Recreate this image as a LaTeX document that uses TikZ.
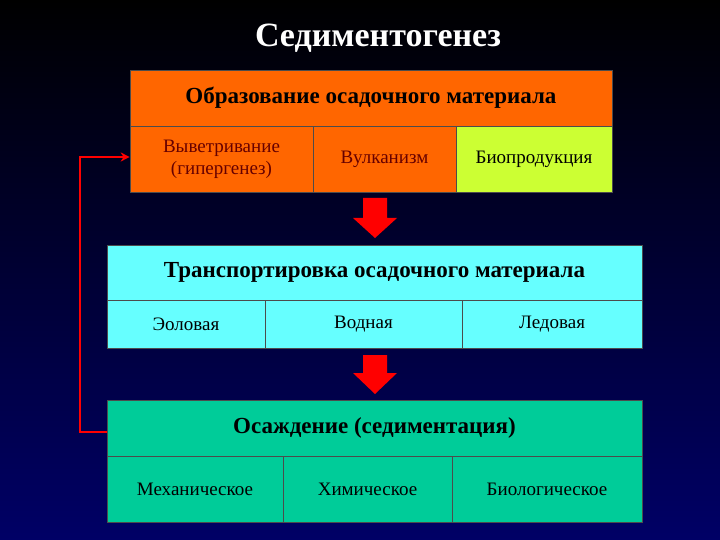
\documentclass[tikz,border=0pt]{standalone}
\usepackage{fontspec}
\setmainfont{Liberation Serif}
\usetikzlibrary{arrows.meta}
\definecolor{orng}{HTML}{FF6600}
\definecolor{lime}{HTML}{CCFF33}
\definecolor{cyn}{HTML}{66FFFF}
\definecolor{teal2}{HTML}{00CC99}
\definecolor{navy2}{HTML}{000066}
\definecolor{maroon2}{HTML}{660000}
\tikzset{
 cell/.style={draw=black!70, line width=0.6pt, inner sep=0pt, align=center, font=\fontsize{19}{22}\selectfont},
 head/.style={cell, font=\bfseries\fontsize{23}{26}\selectfont},
 bigarrow/.style={fill=red, draw=none},
}
\begin{document}
\begin{tikzpicture}[x=1pt,y=-1pt]
\shade[top color=black, bottom color=navy2] (0,0) rectangle (720,540);
\useasboundingbox (0,0) rectangle (720,540);
\node[text=white, font=\bfseries\fontsize{34}{38}\selectfont] (title) at (378,38) {Седиментогенез};
% box 1
\node[head, fill=orng, minimum width=482, minimum height=56] (h1) at (371,98) {Образование осадочного материала};
\node[cell, fill=orng, text=maroon2, minimum width=183, minimum height=66] (c11) at (221.5,159) {Выветривание\\(гипергенез)};
\node[cell, fill=orng, text=maroon2, minimum width=143, minimum height=66] (c12) at (384.5,159) {Вулканизм};
\node[cell, fill=lime, text=black, minimum width=156, minimum height=66] (c13) at (534,159) {Биопродукция};
% box 2
\node[head, fill=cyn, minimum width=535, minimum height=55] (h2) at (374.5,272.5) {Транспортировка осадочного материала};
\node[cell, fill=cyn, minimum width=158, minimum height=48] (c21) at (186,324) {Эоловая};
\node[cell, fill=cyn, minimum width=197, minimum height=48] (c22) at (363.5,324) {Водная};
\node[cell, fill=cyn, minimum width=180, minimum height=48] (c23) at (552,324) {Ледовая};
% box 3
\node[head, fill=teal2, minimum width=535, minimum height=56] (h3) at (374.5,428) {Осаждение (седиментация)};
\node[cell, fill=teal2, minimum width=176, minimum height=66] (c31) at (195,489) {Механическое};
\node[cell, fill=teal2, minimum width=169, minimum height=66] (c32) at (367.5,489) {Химическое};
\node[cell, fill=teal2, minimum width=190, minimum height=66] (c33) at (547,489) {Биологическое};
% down arrows
\fill[bigarrow] (363,198) -- (387,198) -- (387,218) -- (397,218) -- (375,238) -- (353,218) -- (363,218) -- cycle;
\fill[bigarrow] (363,355) -- (387,355) -- (387,373) -- (397,373) -- (375,394) -- (353,373) -- (363,373) -- cycle;
% feedback connector
\coordinate (k1) at (80,432);
\coordinate (k2) at (80,157);
\draw[red, line width=2.5pt, -{Stealth[length=9pt,width=9pt]}] (h3.west|-k1) -- (k1) -- (k2) -- (c11.west|-k2);
\end{tikzpicture}
\end{document}
